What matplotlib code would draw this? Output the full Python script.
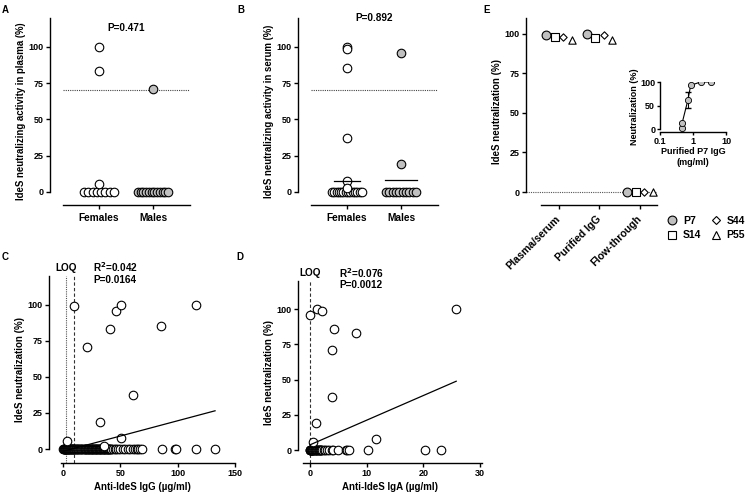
import numpy as np
import matplotlib
matplotlib.use("Agg")
import matplotlib.pyplot as plt
from matplotlib.lines import Line2D

plt.rcParams['font.family'] = ['Liberation Sans', 'DejaVu Sans']
plt.rcParams['font.weight'] = 'bold'
plt.rcParams['axes.labelweight'] = 'bold'

W, H = 748, 498
FS = 6.5
GRAY = '#c0c0c0'
MS = 38

# ---------------- data ----------------
groups = ['Females', 'Males']
plasma_females = [100, 83.5, 5.5] + [0] * 8
plasma_males = [71] + [0] * 12
serum_females = [100, 98.5, 85.5, 37.5, 7.8, 2.5] + [0] * 14
serum_males = [96, 19] + [0] * 10
serum_means = [7.8, 8.3]
threshold = 70
p_plasma = 'P=0.471'
p_serum = 'P=0.892'

igg_x_pos = [9.3, 21, 40.8, 46.6, 51, 85.7, 116, 61, 32, 51, 3.5, 35.5]
igg_y_pos = [99, 71, 83, 95.6, 100, 85.5, 100, 37.6, 19, 7.6, 5.8, 2.3]
igg_x_zero = [0.2, 0.5, 0.8, 1.1, 1.4, 1.7, 2.0, 2.3, 2.6, 3.0, 3.3, 3.6, 4.0, 4.3, 4.7,
              5.0, 5.4, 5.8, 6.2, 6.6, 7.0, 7.5, 8.0, 8.5, 9.0, 9.5, 10, 10.5, 11, 11.6,
              12.2, 12.8, 13.4, 14, 14.7, 15.4, 16, 16.8, 17.5, 18.3, 19, 19.5, 20, 20.5,
              21, 21.5, 22, 22.5, 23, 23.5, 24, 24.5, 25, 25.5, 26, 26.5, 27, 27.5, 28,
              28.5, 29, 29.5, 30, 30.5, 31, 31.5, 32, 32.5, 33, 33.5, 34, 34.5, 35, 35.5,
              36, 36.5, 37, 37.5, 38, 38.5, 39, 39.5, 40, 40.5, 41, 41.5, 42,
              43.6, 45, 46.5, 48, 50, 52, 54, 56.5, 58, 61, 63, 64.5, 65, 67, 68.5,
              86, 97.7, 98.5, 116, 132.5]
igg_fit = (0.212, -1.6)
igg_fit_range = (0, 132.6)
igg_loq = [3, 10]
igg_stats = ['R$^2$=0.042', 'P=0.0164']

iga_x_pos = [0, 1.3, 2.2, 4.3, 8.2, 3.8, 3.9, 1.0, 0.6, 11.7, 25.8]
iga_y_pos = [95.7, 100, 98.8, 85.6, 83.3, 71, 37.7, 18.9, 5.9, 8, 100]
iga_x_zero = [0, 0, 0.05, 0.1, 0.15, 0.2, 0.25, 0.3, 0.35, 0.4, 0.45, 0.5, 0.6, 0.7, 0.8,
              0.9, 1.0, 1.1, 1.2, 1.3, 1.4, 1.5, 1.6, 1.7, 1.8, 1.9, 2.0, 2.2, 2.4, 2.6,
              3.0, 3.3, 3.8, 4.1, 5.0, 6.3, 6.5, 6.8, 10.3, 20.3, 23.2]
iga_fit = (1.75, 3.7)
iga_fit_range = (0, 25.8)
iga_loq = [0]
iga_stats = ['R$^2$=0.076', 'P=0.0012']

e_categories = ['Plasma/serum', 'Purified IgG', 'Flow-through']
e_donors = ['P7', 'S14', 'S44', 'P55']
e_values = {
    'P7': [99, 100, 0],
    'S14': [98, 97.5, 0],
    'S44': [98, 99, 0],
    'P55': [96, 96, 0],
}
inset_conc = [0.45, 0.47, 0.70, 0.85, 1.7, 3.4]
inset_neut = [2.8, 13.4, 61.7, 93, 100, 100]
inset_err = [0, 0, 17, 0, 0, 0]

# ---------------- helpers ----------------
fig = plt.figure(figsize=(W / 100, H / 100), dpi=100)


def ax_px(l, t, r, b):
    return fig.add_axes([l / W, 1 - b / H, (r - l) / W, (b - t) / H])


def px_to_fig(x, y):
    return x / W, 1 - y / H


def style(ax, xb, yb):
    for s in ['top', 'right']:
        ax.spines[s].set_visible(False)
    ax.spines['left'].set_bounds(*yb)
    ax.spines['bottom'].set_bounds(*xb)
    for s in ['left', 'bottom']:
        ax.spines[s].set_linewidth(1.0)
    ax.tick_params(direction='out', length=3, width=1, labelsize=FS, pad=1.5)
    for lab in ax.get_xticklabels() + ax.get_yticklabels():
        lab.set_fontweight('bold')


def swarm(n, half):
    if n <= 1:
        return np.zeros(n)
    return np.linspace(-half, half, n)


def dot_panel(ax, fem, mal, ylab, ptext, ptext_y, means=None):
    for i, (vals, fc) in enumerate([(fem, 'white'), (mal, GRAY)]):
        vals = np.array(vals, dtype=float)
        zeros = vals[vals == 0]
        nonz = vals[vals != 0]
        xs = i + swarm(len(zeros), 0.28)
        ax.scatter(xs, zeros, s=MS, facecolor=fc, edgecolor='black', linewidth=0.8, zorder=3)
        ax.scatter(np.full(len(nonz), i), nonz, s=MS, facecolor=fc, edgecolor='black',
                   linewidth=0.8, zorder=4)
    if means is not None:
        for i, m in enumerate(means):
            hw = 0.24 if i == 0 else 0.3
            ax.plot([i - hw, i + hw], [m, m], color='black', lw=0.9, zorder=5)
    ax.plot([-0.667, 1.685], [threshold, threshold], ls=(0, (1, 1)), color='#444444', lw=0.8)
    ax.set_xlim(-0.907, 1.685)
    ax.set_ylim(-8.97, 120)
    ax.set_yticks([0, 25, 50, 75, 100])
    ax.set_xticks([0, 1])
    style(ax, (-0.667, 1.685), (0, 120))
    ax.set_xticklabels(groups, fontsize=7.3, fontweight='bold')
    ax.tick_params(axis='x', pad=2.5)
    ax.set_ylabel(ylab, fontsize=6.9, fontweight='bold', labelpad=2)
    ax.text(0.5, ptext_y, ptext, ha='center', va='center', fontsize=7.2, fontweight='bold')


# ---------------- panel A ----------------
axA = ax_px(50, 18, 190, 205)
dot_panel(axA, plasma_females, plasma_males, 'IdeS neutralizing activity in plasma (%)',
          p_plasma, 113)

# ---------------- panel B ----------------
axB = ax_px(298, 18, 438, 205)
dot_panel(axB, serum_females, serum_males, 'IdeS neutralizing activity in serum (%)',
          p_serum, 120, means=serum_means)

# ---------------- panel C ----------------
axC = ax_px(49, 276, 235, 463)
axC.scatter(igg_x_zero, np.zeros(len(igg_x_zero)), s=MS, facecolor='white', edgecolor='black',
            linewidth=0.8, zorder=3)
axC.scatter(igg_x_pos, igg_y_pos, s=MS, facecolor='white', edgecolor='black', linewidth=0.8,
            zorder=3)
fx = np.array(igg_fit_range)
axC.plot(fx, igg_fit[0] * fx + igg_fit[1], color='black', lw=0.9, zorder=4)
axC.axvline(igg_loq[0], color='#555555', ls=(0, (1, 1)), lw=0.8)
axC.axvline(igg_loq[1], color='#333333', ls=(0, (3, 2)), lw=0.8)
axC.set_xlim(-12.2, 150)
axC.set_ylim(-9.7, 120)
axC.set_yticks([0, 25, 50, 75, 100])
axC.set_xticks([0, 50, 100, 150])
style(axC, (-2, 150), (0, 120))
axC.set_ylabel('IdeS neutralization (%)', fontsize=7, fontweight='bold', labelpad=2)
axC.set_xlabel('Anti-IdeS IgG (µg/ml)', fontsize=7, fontweight='bold', labelpad=3)
fig.text(*px_to_fig(66, 268), 'LOQ', ha='center', va='center', fontsize=7.2, fontweight='bold')
fig.text(*px_to_fig(93, 267), igg_stats[0], ha='left', va='center', fontsize=7.2, fontweight='bold')
fig.text(*px_to_fig(93, 280), igg_stats[1], ha='left', va='center', fontsize=7.2, fontweight='bold')

# ---------------- panel D ----------------
axD = ax_px(298, 281, 482, 463)
axD.scatter(iga_x_zero, np.zeros(len(iga_x_zero)), s=MS, facecolor='white', edgecolor='black',
            linewidth=0.8, zorder=3)
axD.scatter(iga_x_pos, iga_y_pos, s=MS, facecolor='white', edgecolor='black', linewidth=0.8,
            zorder=3)
fx = np.array(iga_fit_range)
axD.plot(fx, iga_fit[0] * fx + iga_fit[1], color='black', lw=0.9, zorder=4)
axD.axvline(iga_loq[0], color='#333333', ls=(0, (3, 2)), lw=0.8)
axD.set_xlim(-2.12, 30.35)
axD.set_ylim(-9.2, 120)
axD.set_yticks([0, 25, 50, 75, 100])
axD.set_xticks([0, 10, 20, 30])
style(axD, (-1.2, 30.35), (0, 120))
axD.set_ylabel('IdeS neutralization (%)', fontsize=7, fontweight='bold', labelpad=2)
axD.set_xlabel('Anti-IdeS IgA (µg/ml)', fontsize=7, fontweight='bold', labelpad=3)
fig.text(*px_to_fig(310, 273), 'LOQ', ha='center', va='center', fontsize=7.2, fontweight='bold')
fig.text(*px_to_fig(339, 273), iga_stats[0], ha='left', va='center', fontsize=7.2, fontweight='bold')
fig.text(*px_to_fig(339, 285), iga_stats[1], ha='left', va='center', fontsize=7.2, fontweight='bold')

# ---------------- panel E ----------------
axE = ax_px(526, 18, 657, 205)
markers = {'P7': ('o', GRAY, 40), 'S14': ('s', 'white', 34), 'S44': ('D', 'white', 14),
           'P55': ('^', 'white', 28)}
offsets = [-0.31, -0.105, 0.105, 0.31]
handles = []
for d, off in zip(e_donors, offsets):
    m, fc, s = markers[d]
    xs = np.arange(len(e_categories)) + off
    axE.scatter(xs, e_values[d], marker=m, s=s, facecolor=fc, edgecolor='black', linewidth=0.8,
                zorder=3)
    handles.append(Line2D([], [], marker=m, ls='none', markerfacecolor=fc,
                          markeredgecolor='black', markeredgewidth=0.8,
                          markersize=np.sqrt(s), label=d))
axE.plot([-0.815, 2.42], [0, 0], ls=(0, (1, 1)), color='#555555', lw=0.8, zorder=1)
axE.set_xlim(-0.815, 2.42)
axE.set_ylim(-8.2, 110)
axE.set_yticks([0, 25, 50, 75, 100])
axE.set_xticks(range(len(e_categories)))
style(axE, (-0.44, 2.42), (0, 110))
axE.set_xticklabels(e_categories, rotation=45, ha='right', va='center',
                    rotation_mode='anchor', fontsize=7.6, fontweight='bold')
axE.tick_params(axis='x', pad=6)
axE.set_ylabel('IdeS neutralization (%)', fontsize=7, fontweight='bold', labelpad=2)

leg = fig.legend(handles=handles, loc='center', bbox_to_anchor=px_to_fig(706, 228), ncol=2,
                 frameon=False, fontsize=7.5, handletextpad=0.5, columnspacing=0.9,
                 labelspacing=0.45, handlelength=1.0)
for t in leg.get_texts():
    t.set_fontweight('bold')

# inset
axI = ax_px(660, 82, 726, 132)
axI.errorbar(inset_conc, inset_neut, yerr=inset_err, fmt='-', color='black', lw=0.8,
             capsize=2, elinewidth=0.8, zorder=2)
axI.scatter(inset_conc, inset_neut, s=20, facecolor=GRAY, edgecolor='black', linewidth=0.6,
            zorder=3)
axI.set_xscale('log')
axI.set_xlim(0.1, 10)
axI.set_ylim(-6, 100)
axI.set_xticks([0.1, 1, 10])
axI.set_xticklabels(['0.1', '1', '10'])
axI.minorticks_off()
axI.set_yticks([0, 50, 100])
style(axI, (0.1, 10), (0, 100))
axI.tick_params(labelsize=6.5, length=2.5, pad=1)
axI.set_ylabel('Neutralization (%)', fontsize=6.5, fontweight='bold', labelpad=1)
axI.set_xlabel('Purified P7 IgG\n(mg/ml)', fontsize=6.5, fontweight='bold', labelpad=1,
               linespacing=1.2)

# panel letters
for letter, (x, y) in {'A': (5, 10), 'B': (241, 10), 'E': (487, 10), 'C': (5, 257),
                       'D': (240, 257)}.items():
    fig.text(*px_to_fig(x, y), letter, ha='center', va='center', fontsize=7, fontweight='bold')

fig.savefig('out.png', dpi=100)
